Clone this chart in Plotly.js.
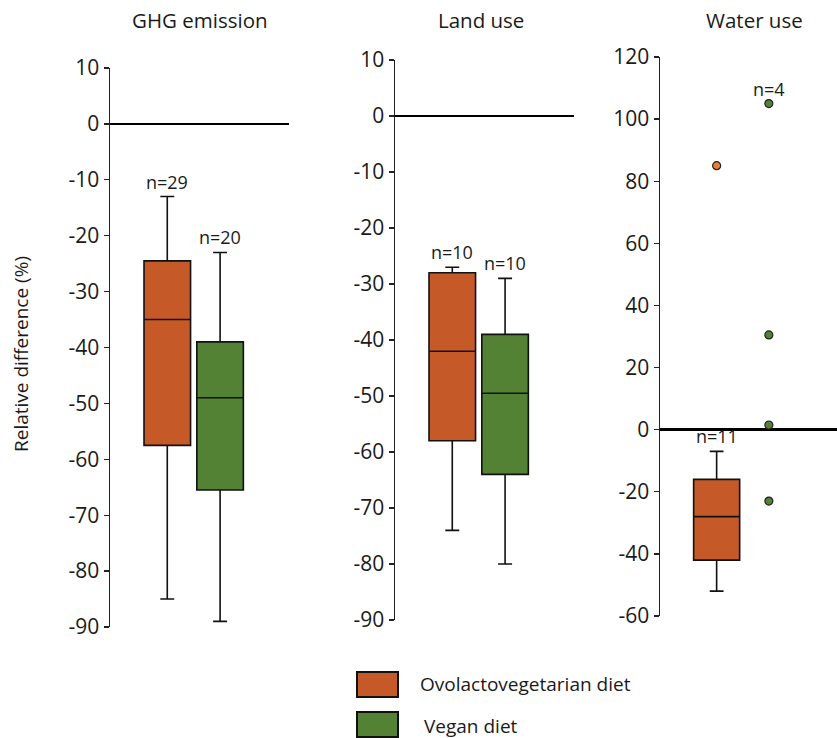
<!DOCTYPE html>
<html>
<head>
<meta charset="utf-8">
<script src="https://cdn.plot.ly/plotly-3.0.1.min.js"></script>
<style>html,body{margin:0;padding:0;background:#fff}#chart{width:837px;height:738px}</style>
</head>
<body>
<div id="chart"></div>
<script>
// ---- Data ----
const categories = ['GHG emission', 'Land use', 'Water use'];
const diets = ['Ovolactovegetarian diet', 'Vegan diet'];

// Ovolactovegetarian diet boxes (GHG, Land, Water)
const ovoLower  = [-85, -74, -52];
const ovoQ1     = [-57.5, -58, -42];
const ovoMedian = [-35, -42, -28];
const ovoQ3     = [-24.5, -28, -16];
const ovoUpper  = [-13, -27, -7];
const ovoN      = [29, 10, 11];
const ovoWaterOutliers = [85];

// Vegan diet boxes (GHG, Land); Water shown as individual points
const veganLower  = [-89, -80];
const veganQ1     = [-65.5, -64];
const veganMedian = [-49, -49.5];
const veganQ3     = [-39, -39];
const veganUpper  = [-23, -29];
const veganN      = [20, 10, 4];
const veganWaterPoints = [105, 30.5, 1.5, -23];

// Tick values / labels for the three y axes
const tickValsGHG   = [10, 0, -10, -20, -30, -40, -50, -60, -70, -80, -90];
const tickValsLand  = [10, 0, -10, -20, -30, -40, -50, -60, -70, -80, -90];
const tickValsWater = [120, 100, 80, 60, 40, 20, 0, -20, -40, -60];
const tickVals = [tickValsGHG, tickValsLand, tickValsWater];
const tickText = tickVals.map(a => a.map(v => String(v)));  // hyphen-minus like the source

// ---- Styling ----
const ORANGE = '#C55A28';
const ORANGE_PT = '#ED7D31';
const GREEN = '#548235';
const TXT = '#1a1a1a';
const FONT = 'Open Sans, sans-serif';
const POS = [0.32, 0.615];
const BOXW = 0.26;

const W = 837, H = 738;
const px = v => v / W;
const py = v => 1 - v / H;

const xDomains = [[px(110), px(289)], [px(395), px(574)], [px(660), 1]];
const yDomains = [[py(627), py(68)], [py(620), py(60)], [py(616), py(57)]];
const yRanges = [[-90, 10], [-90, 10], [-60, 120]];

const axSuffix = i => (i === 0 ? '' : String(i + 1));

const traces = [];
function boxTrace(i, pos, q1, med, q3, lo, hi, color, name) {
  return {
    type: 'box', name: name,
    x: [pos], q1: [q1], median: [med], q3: [q3], lowerfence: [lo], upperfence: [hi],
    width: BOXW, whiskerwidth: 0.3,
    fillcolor: color, line: {color: '#111', width: 1.6},
    boxpoints: false, hoverinfo: 'y',
    xaxis: 'x' + axSuffix(i), yaxis: 'y' + axSuffix(i), showlegend: false
  };
}
for (let i = 0; i < 3; i++) {
  traces.push(boxTrace(i, POS[0], ovoQ1[i], ovoMedian[i], ovoQ3[i], ovoLower[i], ovoUpper[i], ORANGE, diets[0]));
}
for (let i = 0; i < 2; i++) {
  traces.push(boxTrace(i, POS[1], veganQ1[i], veganMedian[i], veganQ3[i], veganLower[i], veganUpper[i], GREEN, diets[1]));
}
traces.push({
  type: 'scatter', mode: 'markers', name: diets[0],
  x: ovoWaterOutliers.map(() => POS[0]), y: ovoWaterOutliers,
  marker: {color: ORANGE_PT, size: 8, line: {color: '#222', width: 1.2}},
  xaxis: 'x3', yaxis: 'y3', showlegend: false
});
traces.push({
  type: 'scatter', mode: 'markers', name: diets[1],
  x: veganWaterPoints.map(() => POS[1]), y: veganWaterPoints,
  marker: {color: GREEN, size: 8, line: {color: '#222', width: 1.2}},
  xaxis: 'x3', yaxis: 'y3', showlegend: false
});

const layout = {
  width: W, height: H,
  margin: {l: 0, r: 0, t: 0, b: 0},
  paper_bgcolor: '#fff', plot_bgcolor: '#fff',
  showlegend: false,
  font: {family: FONT, color: TXT},
  annotations: [], shapes: []
};

for (let i = 0; i < 3; i++) {
  const s = axSuffix(i);
  layout['xaxis' + s] = {
    domain: xDomains[i], range: [0, 1], visible: false, fixedrange: true,
    anchor: 'y' + s
  };
  layout['yaxis' + s] = {
    domain: yDomains[i], range: yRanges[i],
    tickmode: 'array', tickvals: tickVals[i], ticktext: tickText[i],
    anchor: 'x' + s,
    showgrid: false, showline: true, linecolor: '#222', linewidth: 1.5,
    ticks: 'outside', ticklen: 5, tickwidth: 1.3, tickcolor: '#222',
    tickfont: {family: FONT, size: 21, color: TXT},
    zeroline: true, zerolinecolor: '#000', zerolinewidth: 2.5,
    fixedrange: true
  };
  // subplot titles
  layout.annotations.push({
    text: categories[i], xref: 'paper', yref: 'paper',
    x: [px(200), px(481), px(754)][i], y: py(20),
    xanchor: 'center', yanchor: 'middle', showarrow: false,
    font: {family: FONT, size: 20.5, color: TXT}
  });
}
// y-axis title
layout.annotations.push({
  text: 'Relative difference (%)', xref: 'paper', yref: 'paper',
  x: px(21), y: py(354), xanchor: 'center', yanchor: 'middle', textangle: -90,
  showarrow: false, font: {family: FONT, size: 19, color: TXT}
});

// n labels
function nLabel(i, pos, yv, n) {
  layout.annotations.push({
    text: 'n=' + n, xref: 'x' + axSuffix(i), yref: 'y' + axSuffix(i),
    x: pos, y: yv, yshift: 15, xanchor: 'center', yanchor: 'middle', showarrow: false,
    font: {family: FONT, size: 18, color: TXT}
  });
}
for (let i = 0; i < 3; i++) nLabel(i, POS[0], ovoUpper[i], ovoN[i]);
for (let i = 0; i < 2; i++) nLabel(i, POS[1], veganUpper[i], veganN[i]);
nLabel(2, POS[1], Math.max(...veganWaterPoints), veganN[2]);

// custom legend
const legendColors = [ORANGE, GREEN];
const legendBoxes = [[672, 697], [712, 737]];
const legendTextX = [418, 422];
const legendTextY = [684, 726];
for (let k = 0; k < 2; k++) {
  layout.shapes.push({
    type: 'rect', xref: 'paper', yref: 'paper',
    x0: px(357), x1: px(398), y0: py(legendBoxes[k][1]), y1: py(legendBoxes[k][0]),
    fillcolor: legendColors[k], line: {color: '#111', width: 2}
  });
  layout.annotations.push({
    text: diets[k], xref: 'paper', yref: 'paper',
    x: px(legendTextX[k]), y: py(legendTextY[k]), xanchor: 'left', yanchor: 'middle',
    showarrow: false, font: {family: FONT, size: 19, color: TXT}
  });
}

Plotly.newPlot('chart', traces, layout, {displayModeBar: false, staticPlot: true});
</script>
</body>
</html>
